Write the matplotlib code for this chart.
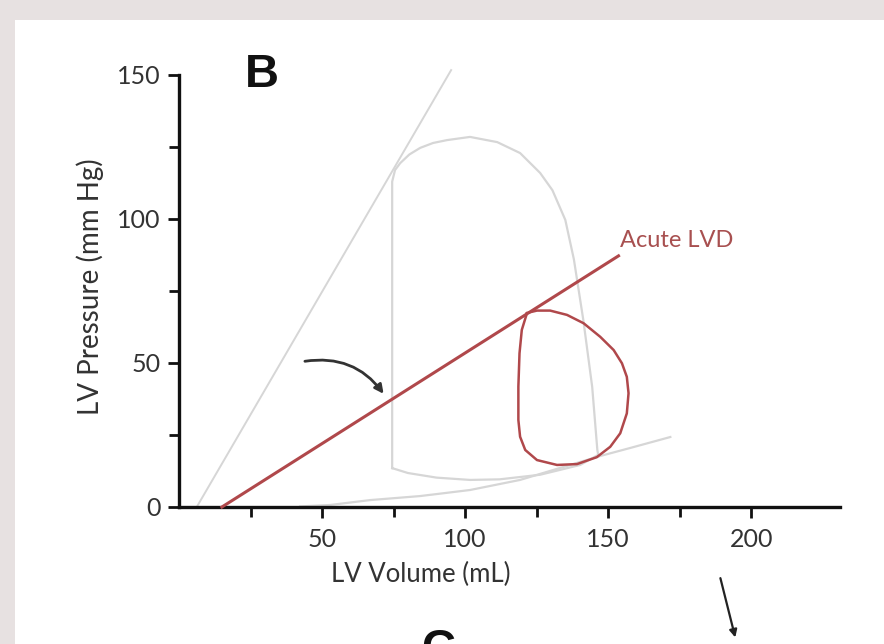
import matplotlib
matplotlib.use('Agg')
import matplotlib.pyplot as plt
from matplotlib.patches import Rectangle

plt.rcParams['font.family'] = ['Lato', 'DejaVu Sans']

# end-systolic pressure-volume line (normal), grey
espvr_v = [6.2, 95.1]
espvr_p = [0.0, 151.7]

# end-diastolic pressure-volume curve, grey
edpvr_v = [42.3, 52.8, 66.8, 84.3, 101.7, 119.2, 134.3, 147.2, 157.7, 171.7]
edpvr_p = [0.2, 0.7, 2.4, 3.8, 5.9, 9.4, 13.9, 17.7, 20.5, 24.3]

# normal PV loop, grey
loop_v = [74.5, 74.5, 74.5, 75.5, 77.3, 80.5, 84.3, 88.8, 93.7, 101.7, 111.2, 119.2, 126.2,
          130.5, 135.0, 138.0, 141.3, 144.4, 146.2, 146.5, 140.2, 126.2, 112.0, 101.7,
          90.0, 80.0, 74.5]
loop_p = [13.5, 70.0, 113.0, 117.0, 119.4, 122.4, 124.7, 126.4, 127.4, 128.5, 126.7, 122.9, 116.0,
          110.0, 99.7, 86.0, 64.9, 41.7, 19.8, 18.1, 14.6, 11.2, 9.6, 9.4,
          10.2, 11.8, 13.5]

# acute LV dysfunction: ESPVR line and PV loop, red
lvd_line_v = [15.0, 153.6]
lvd_line_p = [0.0, 87.2]

lvd_v = [121.6, 119.8, 119.0, 118.6, 118.6, 119.2, 121.0, 125.1, 132.1, 139.1, 146.0,
         150.7, 154.2, 156.5, 157.1, 156.5, 154.8, 151.9, 147.2, 141.4, 135.6, 129.7,
         125.1, 122.1, 121.6]
lvd_p = [67.3, 61.5, 53.4, 41.8, 30.2, 24.4, 19.8, 16.3, 14.6, 14.9, 17.3,
         20.9, 25.6, 32.5, 39.5, 45.2, 49.9, 54.5, 59.1, 63.8, 66.7, 68.2,
         68.2, 67.5, 67.3]

x_major = [50, 100, 150, 200]
x_minor = [25, 75, 125, 175]
y_major = [0, 50, 100, 150]
y_minor = [25, 75, 125]

W, H = 884, 644
fig = plt.figure(figsize=(W / 100, H / 100), dpi=100, facecolor='#e7e1e1')
fig.patches.append(Rectangle((15 / W, 0), 1, (H - 20) / H, transform=fig.transFigure,
                             facecolor='white', edgecolor='none', zorder=-5))

ax = fig.add_axes([179 / W, (H - 507) / H, 661 / W, 432 / H])
ax.set_facecolor('none')
ax.set_xlim(0, 231)
ax.set_ylim(0, 150)

grey = '#d6d6d6'
red = '#b0484b'
ax.plot(espvr_v, espvr_p, color=grey, lw=1.4, clip_on=False, zorder=2)
ax.plot(edpvr_v, edpvr_p, color=grey, lw=1.6, clip_on=False, zorder=2)
ax.plot(loop_v, loop_p, color=grey, lw=1.6, solid_joinstyle='round', zorder=2)
ax.plot(lvd_line_v, lvd_line_p, color=red, lw=2.2, clip_on=False, zorder=3)
ax.plot(lvd_v, lvd_p, color=red, lw=1.8, solid_joinstyle='round', zorder=3)

ax.text(154, 92.5, 'Acute LVD', color='#a85050', fontsize=17, ha='left', va='center')

# curved arrow pointing at the depressed ESPVR
ax.annotate('', xy=(71.5, 39.3), xytext=(44.0, 50.6),
            arrowprops=dict(arrowstyle='-|>', color='#333333', lw=2.0,
                            mutation_scale=13, shrinkA=0, shrinkB=0,
                            connectionstyle='arc3,rad=-0.3'))
# arrow below the axis
ax.annotate('', xy=(194.4, -45.3), xytext=(189.2, -24.7), annotation_clip=False,
            arrowprops=dict(arrowstyle='-|>', color='#222222', lw=1.6,
                            mutation_scale=11, shrinkA=0, shrinkB=0))

# axes styling
for s in ['top', 'right']:
    ax.spines[s].set_visible(False)
for s in ['left', 'bottom']:
    ax.spines[s].set_linewidth(2.4)
    ax.spines[s].set_color('#111111')
ax.spines['left'].set_bounds(0, 150)

ax.set_xticks(x_major)
ax.set_xticks(x_minor, minor=True)
ax.set_yticks(y_major)
ax.set_yticks(y_minor, minor=True)
ax.tick_params(which='both', direction='out', width=2.0, color='#111111')
ax.tick_params(which='major', length=8, labelsize=18, labelcolor='#333333', pad=5)
ax.tick_params(which='minor', length=7)
ax.tick_params(axis='x', which='major', pad=7)

fig.text(421 / W, 1 - 574 / H, 'LV Volume (mL)', fontsize=18.5, color='#333333',
         ha='center', va='center')
fig.text(90 / W, 1 - 287 / H, 'LV Pressure (mm Hg)', fontsize=20, color='#333333',
         ha='center', va='center', rotation=90)

fig.text(262 / W, 1 - 75 / H, 'B', fontsize=34, fontweight='bold', color='#111111',
         family='Liberation Sans', ha='center', va='center')
# panel letter of the next figure, cut by the lower edge as in the source
fig.text(438 / W, 1 - 628 / H, 'C', fontsize=34, fontweight='bold', color='#111111',
         family='Liberation Sans', ha='center', va='top')

fig.savefig('out.png', dpi=100, facecolor=fig.get_facecolor())
